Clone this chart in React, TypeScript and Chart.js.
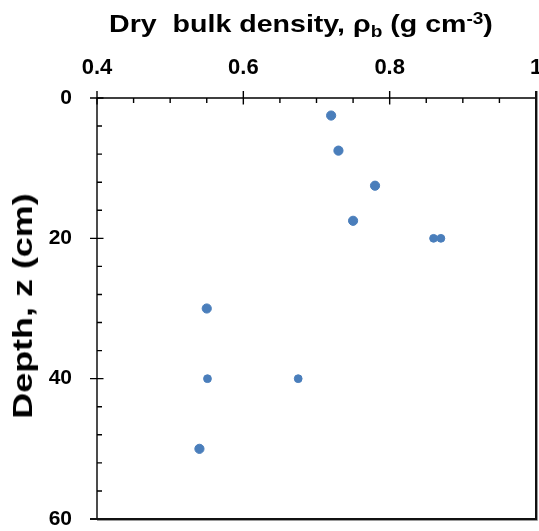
import React, { useEffect, useRef } from "react";
import { Chart, registerables } from "chart.js";

Chart.register(...registerables);

// Series A: larger markers
const depthA = [2.5, 7.5, 12.5, 17.5, 30, 50];
const densityA = [0.72, 0.73, 0.78, 0.75, 0.55, 0.54];
// Series B: smaller markers
const depthB = [20, 20, 40, 40];
const densityB = [0.86, 0.87, 0.551, 0.675];

const xTickValues = [0.4, 0.6, 0.8, 1.0];
const xTickLabels = ["0.4", "0.6", "0.8", "1"];
const yTickValues = [0, 20, 40, 60];
const yTickLabels = ["0", "20", "40", "60"];
const xMinorStep = 0.05;
const yMinorStep = 4;

const FONT = '"Liberation Sans", Arial, Helvetica, sans-serif';
const MARKER = "#4a7ebb";

const tickPlugin = {
  id: "customAxes",
  afterDraw(chart: any) {
    const { ctx, chartArea } = chart;
    const xs = chart.scales.x;
    const ys = chart.scales.y;
    const { left, right, top, bottom } = chartArea;
    ctx.save();
    ctx.strokeStyle = "#000";
    ctx.lineWidth = 1.4;
    ctx.lineCap = "butt";
    ctx.beginPath();
    ctx.moveTo(left, top);
    ctx.lineTo(right, top);
    ctx.moveTo(left, top);
    ctx.lineTo(left, bottom);
    ctx.stroke();
    ctx.beginPath();
    for (const v of xTickValues) {
      const px = xs.getPixelForValue(v);
      ctx.moveTo(px, top - 7);
      ctx.lineTo(px, top + 6.5);
    }
    for (let i = 0; i < xTickValues.length - 1; i++) {
      const a = xTickValues[i];
      const b = xTickValues[i + 1];
      const n = Math.round((b - a) / xMinorStep);
      for (let k = 1; k < n; k++) {
        const px = xs.getPixelForValue(a + k * xMinorStep);
        ctx.moveTo(px, top);
        ctx.lineTo(px, top + 5);
      }
    }
    for (const v of yTickValues) {
      const py = ys.getPixelForValue(v);
      ctx.moveTo(left - 7, py);
      ctx.lineTo(left + 6.5, py);
    }
    for (let i = 0; i < yTickValues.length - 1; i++) {
      const a = yTickValues[i];
      const b = yTickValues[i + 1];
      const n = Math.round((b - a) / yMinorStep);
      for (let k = 1; k < n; k++) {
        const py = ys.getPixelForValue(a + k * yMinorStep);
        ctx.moveTo(left, py);
        ctx.lineTo(left + 5, py);
      }
    }
    ctx.stroke();
    ctx.strokeStyle = "#9a9a9a";
    ctx.lineWidth = 1;
    ctx.beginPath();
    ctx.moveTo(left, bottom + 1.5);
    ctx.lineTo(right + 1.5, bottom + 1.5);
    ctx.lineTo(right + 1.5, top - 7);
    ctx.stroke();
    ctx.strokeStyle = "#111";
    ctx.lineWidth = 2;
    ctx.beginPath();
    ctx.moveTo(left - 7, bottom);
    ctx.lineTo(right, bottom);
    ctx.lineTo(right, top - 7);
    ctx.stroke();
    ctx.restore();
  },
};

const zeroPad = (s: any) => {
  s.paddingLeft = 0;
  s.paddingRight = 0;
  s.paddingTop = 0;
  s.paddingBottom = 0;
};

export default function App() {
  const ref = useRef<HTMLCanvasElement>(null);
  useEffect(() => {
    if (!ref.current) return;
    const chart = new Chart(ref.current, {
      type: "scatter",
      data: {
        datasets: [
          {
            label: "A",
            data: depthA.map((d, i) => ({ x: densityA[i], y: d })),
            backgroundColor: MARKER,
            borderColor: MARKER,
            pointRadius: 4.6,
            borderWidth: 1,
          },
          {
            label: "B",
            data: depthB.map((d, i) => ({ x: densityB[i], y: d })),
            backgroundColor: MARKER,
            borderColor: MARKER,
            pointRadius: 3.9,
            borderWidth: 1,
          },
        ],
      },
      options: {
        responsive: false,
        animation: false,
        devicePixelRatio: 1,
        layout: { autoPadding: false, padding: { left: 0, right: 3, top: 0, bottom: 12 } },
        plugins: {
          legend: { display: false },
          tooltip: { enabled: false },
          title: { display: false },
        },
        scales: {
          x: {
            type: "linear",
            position: "top",
            min: 0.4,
            max: 1.0,
            grid: { display: false, drawTicks: false },
            border: { display: false },
            afterBuildTicks: (s: any) => {
              s.ticks = xTickValues.map((v) => ({ value: v }));
            },
            afterFit: (s: any) => {
              s.height = 98;
              zeroPad(s);
            },
            ticks: {
              padding: 17,
              color: "#000",
              font: { family: FONT, size: 22, weight: "bold" },
              maxRotation: 0,
              callback: (_v: any, i: number) => xTickLabels[i],
            },
          },
          y: {
            type: "linear",
            reverse: true,
            min: 0,
            max: 60,
            grid: { display: false, drawTicks: false },
            border: { display: false },
            afterBuildTicks: (s: any) => {
              s.ticks = yTickValues.map((v) => ({ value: v }));
            },
            afterFit: (s: any) => {
              s.width = 97;
              zeroPad(s);
            },
            ticks: {
              padding: 25,
              color: "#000",
              font: { family: FONT, size: 21, weight: "bold" },
              callback: (_v: any, i: number) => yTickLabels[i],
            },
          },
        },
      },
      plugins: [tickPlugin],
    });
    return () => chart.destroy();
  }, []);

  return (
    <div
      style={{
        position: "fixed",
        left: 0,
        top: 0,
        width: 539,
        height: 531,
        overflow: "hidden",
        background: "#fff",
      }}
    >
      <canvas ref={ref} width={539} height={531} style={{ width: 539, height: 531, display: "block" }} />
      <div
        style={{
          position: "absolute",
          left: 0,
          top: 12,
          width: 602,
          textAlign: "center",
          fontFamily: FONT,
          fontWeight: "bold",
          fontSize: 24,
          lineHeight: "24px",
          color: "#000",
          whiteSpace: "pre",
          transform: "scaleX(1.19)",
          transformOrigin: "50% 50%",
        }}
      >
        {"Dry  bulk density, ρ"}
        <sub style={{ fontSize: 16, lineHeight: 0, verticalAlign: "-5px" }}>b</sub>
        {" (g cm"}
        <sup style={{ fontSize: 16, lineHeight: 0, verticalAlign: "8px" }}>-3</sup>
        {")"}
      </div>
      <div
        style={{
          position: "absolute",
          left: 23 - 150,
          top: 306 - 15,
          width: 300,
          height: 30,
          textAlign: "center",
          fontFamily: FONT,
          fontWeight: "bold",
          fontSize: 27,
          lineHeight: "30px",
          color: "#000",
          whiteSpace: "pre",
          transform: "rotate(-90deg) scaleX(1.33)",
          transformOrigin: "50% 50%",
        }}
      >
        {"Depth, z (cm)"}
      </div>
    </div>
  );
}
